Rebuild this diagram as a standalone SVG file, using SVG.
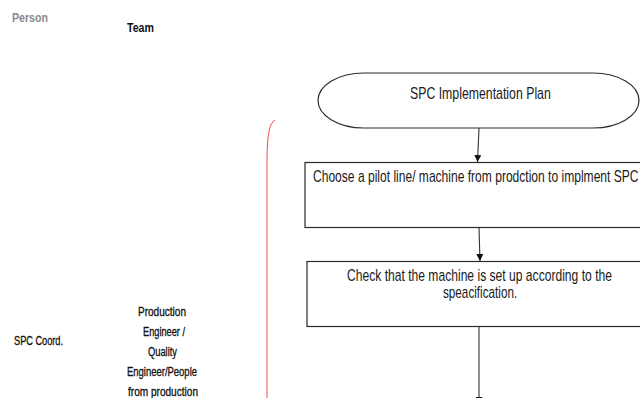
<svg xmlns="http://www.w3.org/2000/svg" width="640" height="398" viewBox="0 0 640 398">
<style>
.box{fill:#fff;stroke:#2b2b2b;stroke-width:1.2}
.t{font-family:"Liberation Sans",Arial,sans-serif;font-size:16px;fill:#1a1a1a}
.s{font-family:"Liberation Sans",Arial,sans-serif;font-size:12px;fill:#111;stroke:#111;stroke-width:0.3}
.c{stroke:#333;stroke-width:1.1;fill:none;marker-end:url(#ah)}
</style>
<defs>
<marker id="ah" viewBox="0 0 10 10" refX="10" refY="5" markerWidth="7" markerHeight="7" markerUnits="userSpaceOnUse" orient="auto">
<path d="M0,0 L10,5 L0,10 z" fill="#111"/>
</marker>
</defs>
<rect width="640" height="398" fill="#fff"/>
<g id="person-header"><text x="12" y="22" class="s" style="fill:#8a8a8a;stroke:none;font-weight:bold" textLength="36" lengthAdjust="spacingAndGlyphs">Person</text></g>
<g id="team-header"><text x="127" y="32" class="s" style="font-weight:bold;stroke:none;font-size:13px" textLength="27" lengthAdjust="spacingAndGlyphs">Team</text></g>
<g id="person-label"><text x="14" y="345" class="s" textLength="49" lengthAdjust="spacingAndGlyphs">SPC Coord.</text></g>
<g id="team-label">
<text x="138" y="316" class="s" textLength="48" lengthAdjust="spacingAndGlyphs">Production</text>
<text x="143" y="336" class="s" textLength="42" lengthAdjust="spacingAndGlyphs">Engineer /</text>
<text x="148" y="356" class="s" textLength="29" lengthAdjust="spacingAndGlyphs">Quality</text>
<text x="127" y="376" class="s" textLength="70" lengthAdjust="spacingAndGlyphs">Engineer/People</text>
<text x="128" y="396" class="s" textLength="70" lengthAdjust="spacingAndGlyphs">from production</text>
</g>
<g id="bracket"><path d="M275,120 C269,124 267,135 267,165 L267,400" fill="none" stroke="#f04a4a" stroke-width="1"/></g>
<g id="start">
<path class="box" d="M364,73 L593,73 A46,27.5 0 0 1 593,128 L364,128 A46,27.5 0 0 1 364,73 z"/>
<text transform="translate(410,99) scale(0.757,1)" class="t" textLength="186" lengthAdjust="spacingAndGlyphs">SPC Implementation Plan</text>
</g>
<g id="choose">
<rect class="box" x="305" y="162.5" width="336" height="65"/>
<text transform="translate(313,182) scale(0.757,1)" class="t" textLength="430" lengthAdjust="spacingAndGlyphs">Choose a pilot line/ machine from prodction to implment SPC</text>
</g>
<g id="check">
<rect class="box" x="307" y="261.5" width="334" height="65"/>
<text transform="translate(347,281) scale(0.757,1)" class="t" textLength="350" lengthAdjust="spacingAndGlyphs">Check that the machine is set up according to the</text>
<text transform="translate(443,298) scale(0.757,1)" class="t" textLength="98" lengthAdjust="spacingAndGlyphs">speacification.</text>
</g>
<g id="connectors">
<path class="c" d="M479,128 L477.5,162"/>
<path class="c" d="M479,228 L480,261"/>
<path class="c" d="M479,327 L479,404"/>
</g>
</svg>
